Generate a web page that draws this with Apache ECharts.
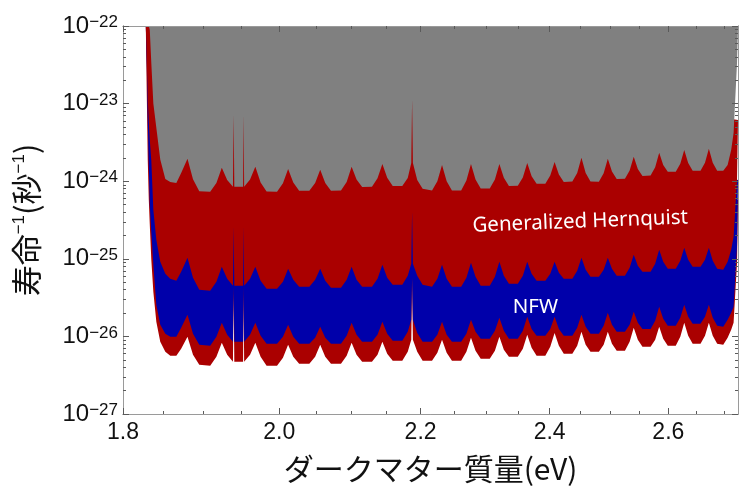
<!DOCTYPE html>
<html>
<head>
<meta charset="utf-8">
<script src="https://cdn.jsdelivr.net/npm/echarts@6/dist/echarts.min.js"></script>
<style>
  html, body { margin: 0; padding: 0; background: #fff; }
  #chart { width: 743px; height: 492px; }
</style>
</head>
<body>
<div id="chart"></div>
<script>
// ダークマター質量 (eV) — shared x positions of all four boundaries
const massEv = [
  1.8279, 1.8291, 1.8303, 1.8316, 1.8328, 1.8347, 1.8372, 1.8409, 1.8458, 1.8521, 1.8583, 1.8659, 1.872,
  1.880, 1.887, 1.895, 1.909, 1.917,
  1.924, 1.931, 1.9385, 1.9394, 1.9403, 1.9518, 1.9525, 1.9532, 1.961,
  1.968, 1.975, 1.983, 1.997, 2.005,
  2.012, 2.019, 2.027, 2.041, 2.049,
  2.056, 2.063, 2.071, 2.085, 2.093,
  2.100, 2.107, 2.115, 2.129, 2.137,
  2.144, 2.151, 2.159, 2.173, 2.181,
  2.1862, 2.1874, 2.1886, 2.195, 2.203, 2.217, 2.225,
  2.232, 2.239, 2.247, 2.261, 2.269,
  2.276, 2.283, 2.291, 2.305, 2.313,
  2.320, 2.327, 2.335, 2.349, 2.357,
  2.364, 2.371, 2.379, 2.393, 2.401,
  2.408, 2.415, 2.423, 2.437, 2.445,
  2.452, 2.459, 2.467, 2.481, 2.489,
  2.496, 2.503, 2.511, 2.525, 2.533,
  2.540, 2.547, 2.555, 2.569, 2.577,
  2.584, 2.591, 2.599, 2.613, 2.621,
  2.628, 2.635, 2.643, 2.657, 2.665,
  2.672, 2.679, 2.687, 2.698, 2.706, 2.7125, 2.7169, 2.7232, 2.725
]

// 灰色の領域の下端
const grayBoundary = [
  1e-22, 1e-22, 1e-22, 1e-22, 8.9e-23, 3.3e-23, 1.0e-23, 4.9e-24, 1.9e-24, 1.07e-24, 9.8e-25, 9.5e-25, 1.28e-24,
  1.94e-24, 1.06e-24, 7.4e-25, 7.3e-25, 9.5e-25,
  1.49e-24, 1.04e-24, 8.5e-25, 7.1e-24, 8.5e-25, 8.5e-25, 7.1e-24, 8.5e-25, 1.05e-24,
  1.53e-24, 9.6e-25, 7.35e-25, 7.3e-25, 9.4e-25,
  1.44e-24, 9.6e-25, 7.55e-25, 7.55e-25, 9.45e-25,
  1.40e-24, 9.45e-25, 7.55e-25, 7.6e-25, 9.8e-25,
  1.53e-24, 1.05e-24, 8.45e-25, 8.5e-25, 1.09e-24,
  1.67e-24, 1.11e-24, 8.7e-25, 8.7e-25, 1.10e-24,
  1.72e-24, 1.11e-23, 1.72e-24, 1.04e-24, 8.0e-25, 7.6e-25, 1.0e-24,
  1.62e-24, 1.0e-24, 7.6e-25, 7.6e-25, 1.02e-24,
  1.67e-24, 1.05e-24, 8.05e-25, 8.05e-25, 1.05e-24,
  1.67e-24, 1.11e-24, 8.7e-25, 8.75e-25, 1.12e-24,
  1.72e-24, 1.16e-24, 9.3e-25, 9.3e-25, 1.18e-24,
  1.77e-24, 1.22e-24, 9.8e-25, 9.9e-25, 1.28e-24,
  2.0e-24, 1.28e-24, 9.9e-25, 9.85e-25, 1.27e-24,
  1.94e-24, 1.33e-24, 1.07e-24, 1.075e-24, 1.37e-24,
  2.06e-24, 1.44e-24, 1.17e-24, 1.18e-24, 1.51e-24,
  2.32e-24, 1.62e-24, 1.32e-24, 1.325e-24, 1.68e-24,
  2.53e-24, 1.71e-24, 1.36e-24, 1.36e-24, 1.73e-24,
  2.61e-24, 1.73e-24, 1.36e-24, 1.36e-24, 1.62e-24, 2.53e-24, 4.19e-24, 3.34e-23, 1e-22
]

// Generalized Hernquist 上側の赤い帯の下端 (= NFW の上端)
const hernquistUpper = [
  1e-22, 3.65e-23, 1.11e-23, 5.8e-24, 3.4e-24, 1.83e-24, 4.27e-25, 1.76e-25, 9.14e-26, 6.41e-26, 5.52e-26, 5.21e-26, 6.8e-26,
  1.03e-25, 5.69e-26, 3.99e-26, 3.87e-26, 5.05e-26,
  7.88e-26, 5.52e-26, 4.49e-26, 2.58e-25, 4.49e-26, 4.49e-26, 2.58e-25, 4.49e-26, 5.52e-26,
  7.88e-26, 5.21e-26, 4.11e-26, 4.11e-26, 5.05e-26,
  7.43e-26, 5.36e-26, 4.36e-26, 4.36e-26, 5.36e-26,
  7.43e-26, 5.21e-26, 4.23e-26, 4.23e-26, 5.36e-26,
  7.88e-26, 5.36e-26, 4.36e-26, 4.36e-26, 5.52e-26,
  8.37e-26, 5.69e-26, 4.62e-26, 4.62e-26, 6.04e-26,
  8.62e-26, 4.03e-25, 8.62e-26, 6.04e-26, 4.62e-26, 4.36e-26, 5.52e-26,
  8.37e-26, 5.52e-26, 4.36e-26, 4.36e-26, 5.69e-26,
  8.88e-26, 5.86e-26, 4.49e-26, 4.49e-26, 5.86e-26,
  9.14e-26, 6.04e-26, 4.76e-26, 4.76e-26, 6.04e-26,
  9.14e-26, 6.41e-26, 5.21e-26, 5.21e-26, 6.41e-26,
  9.14e-26, 6.6e-26, 5.52e-26, 5.52e-26, 7.0e-26,
  1.03e-25, 7.21e-26, 5.86e-26, 5.86e-26, 7.21e-26,
  1.03e-25, 7.43e-26, 6.04e-26, 6.04e-26, 7.65e-26,
  1.125e-25, 8.12e-26, 6.8e-26, 6.8e-26, 8.62e-26,
  1.305e-25, 9.14e-26, 7.43e-26, 7.43e-26, 9.42e-26,
  1.385e-25, 9.7e-26, 7.88e-26, 7.88e-26, 9.7e-26,
  1.385e-25, 9.42e-26, 7.43e-26, 7.21e-26, 9.14e-26, 1.305e-25, 1.92e-25, 1.04e-24, 6.16e-24
]

// NFW 青い帯の下端
const nfwLower = [
  1e-22, 3.24e-23, 5.98e-24, 1.53e-24, 4.81e-25, 2.23e-25, 8.37e-26, 2.56e-26, 1.41e-26, 1.08e-26, 9.89e-27, 9.89e-27, 1.29e-26,
  1.9e-26, 1.08e-26, 7.8e-27, 7.58e-27, 9.89e-27,
  1.5e-26, 1.05e-26, 8.53e-27, 4.36e-26, 8.53e-27, 8.53e-27, 4.36e-26, 8.53e-27, 1.05e-26,
  1.5e-26, 1.02e-26, 8.04e-27, 8.04e-27, 9.89e-27,
  1.41e-26, 9.89e-27, 8.04e-27, 8.04e-27, 9.6e-27,
  1.33e-26, 9.6e-27, 8.04e-27, 8.04e-27, 1.02e-26,
  1.5e-26, 1.05e-26, 8.53e-27, 8.53e-27, 1.05e-26,
  1.54e-26, 1.08e-26, 8.79e-27, 8.79e-27, 1.15e-26,
  1.64e-26, 5.69e-26, 1.64e-26, 1.11e-26, 8.53e-27, 8.53e-27, 1.05e-26,
  1.54e-26, 1.05e-26, 8.53e-27, 8.53e-27, 1.08e-26,
  1.64e-26, 1.15e-26, 9.32e-27, 9.32e-27, 1.18e-26,
  1.74e-26, 1.18e-26, 9.32e-27, 9.32e-27, 1.18e-26,
  1.79e-26, 1.25e-26, 1.02e-26, 1.02e-26, 1.25e-26,
  1.79e-26, 1.25e-26, 1.02e-26, 1.02e-26, 1.29e-26,
  1.9e-26, 1.33e-26, 1.08e-26, 1.08e-26, 1.37e-26,
  2.02e-26, 1.41e-26, 1.15e-26, 1.15e-26, 1.41e-26,
  2.08e-26, 1.5e-26, 1.25e-26, 1.25e-26, 1.59e-26,
  2.41e-26, 1.69e-26, 1.37e-26, 1.37e-26, 1.74e-26,
  2.56e-26, 1.79e-26, 1.46e-26, 1.46e-26, 1.79e-26,
  2.56e-26, 1.74e-26, 1.37e-26, 1.33e-26, 1.64e-26, 2.02e-26, 2.41e-26, 1.43e-25, 1.04e-24
]

// Generalized Hernquist 下側の赤い帯の下端
const hernquistLower = [
  1e-22, 1.29e-23, 1.88e-24, 5.74e-25, 2.74e-25, 9.7e-26, 3.76e-26, 1.54e-26, 8.53e-27, 6.34e-27, 5.63e-27, 5.63e-27, 6.93e-27,
  9.89e-27, 5.8e-27, 4.31e-27, 4.19e-27, 5.47e-27,
  8.28e-27, 5.8e-27, 4.72e-27, 3.65e-26, 4.72e-27, 4.72e-27, 3.65e-26, 4.72e-27, 5.8e-27,
  8.28e-27, 5.47e-27, 4.19e-27, 4.19e-27, 5.31e-27,
  7.8e-27, 5.47e-27, 4.44e-27, 4.44e-27, 5.47e-27,
  7.8e-27, 5.47e-27, 4.44e-27, 4.44e-27, 5.63e-27,
  8.28e-27, 5.8e-27, 4.72e-27, 4.72e-27, 5.8e-27,
  8.53e-27, 5.98e-27, 4.86e-27, 4.86e-27, 6.34e-27,
  9.05e-27, 5.69e-26, 9.05e-27, 6.34e-27, 4.86e-27, 4.86e-27, 6.16e-27,
  9.05e-27, 6.16e-27, 4.86e-27, 4.86e-27, 6.34e-27,
  9.6e-27, 6.53e-27, 5.15e-27, 5.15e-27, 6.53e-27,
  9.89e-27, 6.73e-27, 5.47e-27, 5.47e-27, 6.93e-27,
  1.05e-26, 7.14e-27, 5.63e-27, 5.63e-27, 7.36e-27,
  1.11e-26, 7.58e-27, 5.98e-27, 5.98e-27, 7.58e-27,
  1.15e-26, 7.8e-27, 6.34e-27, 6.34e-27, 7.8e-27,
  1.15e-26, 8.04e-27, 6.53e-27, 6.53e-27, 8.53e-27,
  1.29e-26, 9.05e-27, 7.36e-27, 7.36e-27, 9.05e-27,
  1.33e-26, 9.32e-27, 7.58e-27, 7.58e-27, 9.89e-27,
  1.5e-26, 1.02e-26, 8.04e-27, 8.04e-27, 1.02e-26,
  1.5e-26, 1.02e-26, 8.04e-27, 7.8e-27, 9.6e-27, 1.22e-26, 1.5e-26, 8.88e-26, 5.74e-25
]

// 目盛り
const xMajorTicks = [1.8, 2.0, 2.2, 2.4, 2.6]
const xMinorTicks = [1.85, 1.9, 1.95, 2.05, 2.1, 2.15, 2.25, 2.3, 2.35, 2.45, 2.5, 2.55, 2.65, 2.7]
const yMajorTicks = [1e-27, 1e-26, 1e-25, 1e-24, 1e-23, 1e-22]
const yMinorTicks = [
  2e-27, 3e-27, 4e-27, 5e-27, 6e-27, 7e-27, 8e-27, 9e-27,
  2e-26, 3e-26, 4e-26, 5e-26, 6e-26, 7e-26, 8e-26, 9e-26,
  2e-25, 3e-25, 4e-25, 5e-25, 6e-25, 7e-25, 8e-25, 9e-25,
  2e-24, 3e-24, 4e-24, 5e-24, 6e-24, 7e-24, 8e-24, 9e-24,
  2e-23, 3e-23, 4e-23, 5e-23, 6e-23, 7e-23, 8e-23, 9e-23
]

// 帯の名前
const bandLabels = [
  { name: 'Generalized Hernquist', mass: 2.45, rate: 3.0e-25, rotate: 2.2 },
  { name: 'NFW', mass: 2.377, rate: 2.37e-26, rotate: 0 }
]

const frameColor = '#9a9a9a'
const tickColor = '#5a5a5a'
const numFont = 'Liberation Sans'
const cjkFont = '"Noto Sans CJK JP"'

const myChart = echarts.init(document.getElementById('chart'), null, { renderer: 'canvas' })

const toPairs = (vals) => massEv.map((m, i) => [m, vals[i]])

// log 軸は 1e-22 付近の小さな値で目盛りが丸められて消えるので、
// 目盛りと数字は指数 (log10) の value 軸を重ねて描く
const yExp = (vals) => vals.map((v) => Math.log10(v))

const frameLine = { show: true, lineStyle: { color: frameColor } }
const ticks = (values, len) => ({
  show: true,
  inside: true,
  length: len,
  customValues: values,
  lineStyle: { color: tickColor }
})

const xBase = { type: 'log', logBase: 10, min: 1.8, max: 2.725, z: 5, splitLine: { show: false }, axisLine: frameLine }
const yTickBase = { type: 'value', min: -27, max: -22, z: 5, splitLine: { show: false }, axisLine: frameLine }

const band = (name, vals, color) => ({
  name,
  type: 'line',
  data: toPairs(vals),
  showSymbol: false,
  symbol: 'none',
  silent: true,
  lineStyle: { width: 0, opacity: 0 },
  areaStyle: { color, opacity: 1, origin: 'end' }
})

const option = {
  animation: false,
  grid: { left: 123, right: 5, top: 26, bottom: 78 },
  xAxis: [
    {
      ...xBase,
      position: 'bottom',
      axisTick: ticks(xMajorTicks, 6),
      axisLabel: {
        customValues: xMajorTicks,
        margin: 7,
        fontSize: 23,
        fontFamily: numFont,
        color: '#111',
        formatter: (v) => v.toFixed(1)
      },
      name: 'ダークマター質量(eV)',
      nameLocation: 'middle',
      nameGap: 40,
      nameTextStyle: { fontSize: 30, fontFamily: cjkFont, color: '#111' }
    },
    { ...xBase, position: 'bottom', axisTick: ticks(xMinorTicks, 3), axisLabel: { show: false } },
    { ...xBase, position: 'top', axisTick: ticks(xMajorTicks, 6), axisLabel: { show: false } },
    { ...xBase, position: 'top', axisTick: ticks(xMinorTicks, 3), axisLabel: { show: false } }
  ],
  yAxis: [
    {
      // series 用の log 軸
      type: 'log',
      logBase: 10,
      min: 1e-27,
      max: 1e-22,
      position: 'left',
      splitLine: { show: false },
      axisLine: frameLine,
      axisTick: { show: false },
      axisLabel: { show: false }
    },
    {
      ...yTickBase,
      position: 'left',
      axisTick: ticks(yExp(yMajorTicks), 6),
      axisLabel: {
        customValues: yExp(yMajorTicks),
        margin: 5,
        formatter: (v) => '{b|10}{s|−' + Math.round(-v) + '}',
        rich: {
          b: { fontSize: 24, fontFamily: numFont, color: '#111' },
          s: { fontSize: 17, fontFamily: numFont, color: '#111', verticalAlign: 'top' }
        }
      },
      name: '{m|寿命}{s|−1}{m|(秒}{s|−1}{m|)}',
      nameLocation: 'middle',
      nameRotate: 90,
      nameGap: 81,
      nameTextStyle: {
        rich: {
          m: { fontSize: 31, fontFamily: cjkFont, color: '#111' },
          s: { fontSize: 17, fontFamily: numFont, color: '#111', verticalAlign: 'top' }
        }
      }
    },
    { ...yTickBase, position: 'left', axisTick: ticks(yExp(yMinorTicks), 3), axisLabel: { show: false } },
    { ...yTickBase, position: 'right', axisTick: ticks(yExp(yMajorTicks), 6), axisLabel: { show: false } },
    { ...yTickBase, position: 'right', axisTick: ticks(yExp(yMinorTicks), 3), axisLabel: { show: false } }
  ],
  series: [
    band('Hernquist lower', hernquistLower, '#aa0000'),
    band('NFW', nfwLower, '#0000aa'),
    band('Hernquist upper', hernquistUpper, '#aa0000'),
    band('excluded', grayBoundary, '#808080'),
    {
      type: 'scatter',
      silent: true,
      symbolSize: 0,
      itemStyle: { color: '#ffffff', opacity: 1 },
      z: 4,
      data: bandLabels.map((b) => ({
        name: b.name,
        value: [b.mass, b.rate],
        label: { rotate: b.rotate }
      })),
      label: {
        show: true,
        position: 'inside',
        align: 'center',
        verticalAlign: 'middle',
        formatter: '{b}',
        color: '#ffffff',
        opacity: 1,
        fontSize: 20.5,
        fontFamily: 'Noto Sans'
      }
    }
  ]
}
myChart.setOption(option)
</script>
</body>
</html>
